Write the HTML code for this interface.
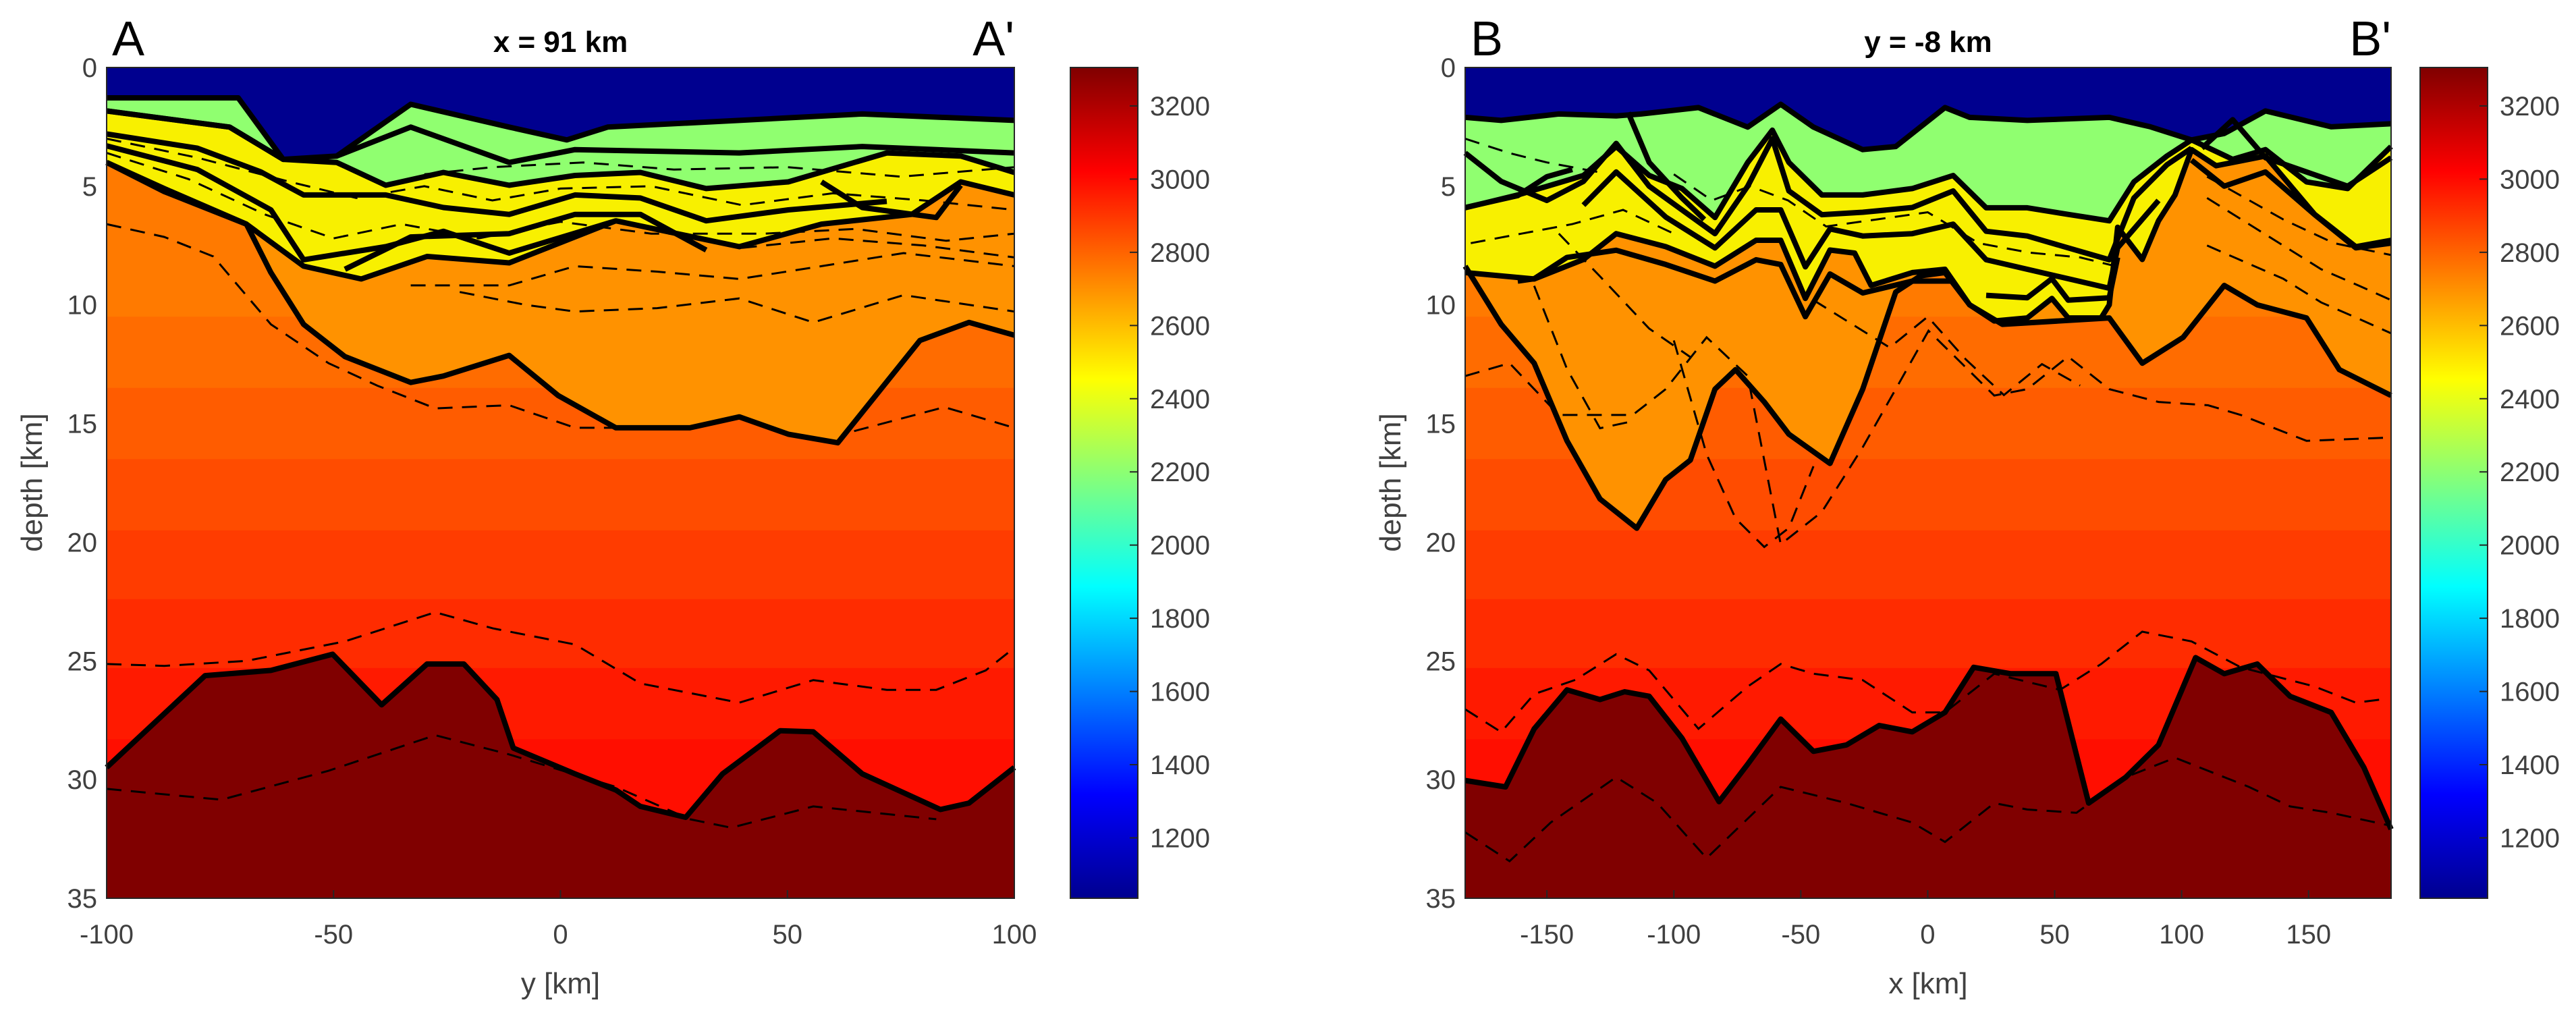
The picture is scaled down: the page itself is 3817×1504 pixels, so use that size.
<!DOCTYPE html>
<html><head><meta charset="utf-8"><style>
html,body{margin:0;padding:0;background:#fff;}
svg{display:block;font-family:"Liberation Sans",sans-serif;}
</style></head><body>
<svg id="fig" width="3817" height="1504" viewBox="0 0 3817 1504" xmlns="http://www.w3.org/2000/svg">
<defs>
<linearGradient id="jet" x1="0" y1="1" x2="0" y2="0">
<stop offset="0" stop-color="#00008F"/><stop offset="0.125" stop-color="#0000FF"/>
<stop offset="0.375" stop-color="#00FFFF"/><stop offset="0.625" stop-color="#FFFF00"/>
<stop offset="0.875" stop-color="#FF0000"/><stop offset="1" stop-color="#800000"/>
</linearGradient>
</defs>
</svg>
<script>
// ---------------- data (km, depth km) ----------------
const depthTicks=[0,5,10,15,20,25,30,35];
const leftXTicks=[-100,-50,0,50,100];
const rightXTicks=[-150,-100,-50,0,50,100,150];
const cbTicks=[1200,1400,1600,1800,2000,2200,2400,2600,2800,3000,3200];
const bandEdges=[0,10.5,13.5,16.5,19.5,22.4,25.3,28.3,35];
const bandColors=["#FF7A00","#FF6C00","#FF5C00","#FF4C00","#FF3C00","#FF2C00","#FF1A00","#FF0E00"];

const Lsea=[[-100,1.28],[-71,1.28],[-61.1,3.87],[-49.3,3.73],[-33,1.55],[-11.3,2.51],[1.4,3.05],[10.4,2.51],[39.4,2.23],[66.5,1.96],[100,2.23]];
const Lgreen=[[-100,1.83],[-72.9,2.51],[-61.1,3.87],[-49.3,4.0],[-38.5,4.96],[-25.8,4.42],[-11.3,4.96],[3.2,4.55],[17.6,4.42],[32.1,5.1],[50.2,4.82],[71.9,3.6],[88.2,3.73],[100,4.42]];
const Lyellow=[[-100,4.0],[-87.3,5.1],[-69.2,6.6],[-56.6,8.37],[-43.9,8.91],[-29.4,7.96],[-11.3,8.23],[12.2,6.46],[39.4,7.55],[57.5,6.6],[77.4,6.19],[88.2,4.82],[100,5.37]];
const Lcrust=[[-100,4.0],[-87.3,5.23],[-69.2,6.6],[-63.8,8.64],[-56.6,10.82],[-47.5,12.18],[-33,13.27],[-25.8,13.0],[-11.3,12.13],[-0.5,13.82],[12.2,15.18],[28.5,15.18],[39.4,14.72],[50.2,15.45],[61.1,15.81],[79.2,11.5],[90,10.74],[100,11.28]];
const Lmoho=[[-100,29.49],[-78.3,25.62],[-63.8,25.4],[-50.2,24.72],[-39.4,26.85],[-29.4,25.13],[-21.3,25.13],[-14,26.63],[-10.4,28.67],[3.2,29.76],[12.2,30.44],[17.6,31.13],[27.6,31.59],[35.7,29.76],[48.4,27.94],[55.7,27.99],[66.5,29.76],[83.7,31.26],[90,30.99],[100,29.49]];
const Lthick=[
 [[-100,1.83],[-72.9,2.51],[-61.1,3.87]],
 [[-49.3,3.73],[-33,2.51],[-11.3,4.0],[3.2,3.46],[39.4,3.6],[66.5,3.33],[100,3.6]],
 [[-100,2.8],[-80,3.4],[-66,4.4],[-56.6,5.37],[-38.5,5.37],[-25.8,5.9],[-11.3,6.19],[3.2,5.37],[17.6,5.5],[32.1,6.46],[50.2,6.0],[71.9,5.64]],
 [[-100,3.3],[-80,4.3],[-63.8,6.0],[-56.6,8.1],[-38.5,7.55],[-25.8,6.9],[-11.3,7.82],[12.2,6.46]],
 [[-47.5,8.5],[-33,7.14],[-11.3,7.0],[3.2,6.19],[17.6,6.19],[32.1,7.69]],
 [[57.5,4.82],[66.5,5.9],[82.8,6.32],[88.2,4.96]]
];
const Ldash=[
 [[-100,25.13],[-87.3,25.21],[-69.2,25.0],[-47.5,24.18],[-27.6,22.95],[-14.9,23.63],[3.2,24.31],[17.6,25.95],[39.4,26.76],[55.7,25.81],[71.9,26.22],[82.8,26.22],[93.7,25.4],[100,24.45]],
 [[-100,30.39],[-74.7,30.85],[-51.1,29.63],[-27.6,28.13],[-11.3,28.94],[12.2,30.31],[28.5,31.67],[37.6,32.03],[55.7,31.13],[82.8,31.67]],
 [[-100,6.6],[-87.3,7.14],[-76.5,7.96],[-63.8,10.82],[-51.1,12.46],[-40.3,13.41],[-27.6,14.36],[-11.3,14.23],[3.2,15.18],[14,15.18]],
 [[64.7,15.32],[84.6,14.31],[100,15.18]],
 [[-22.2,9.46],[-7.7,10.0],[3.2,10.28],[21.3,10.14],[39.4,9.73],[55.7,10.74],[75.6,9.59],[100,10.28]],
 [[-33,9.18],[-11.3,9.18],[3.2,8.37],[21.3,8.6],[39.4,8.91],[57.5,8.37],[75.6,7.82],[100,8.37]],
 [[-100,3.0],[-80,3.8],[-60,4.8],[-45,5.5],[-30,5.0],[-15,5.6],[0,5.1],[20,5.0],[40,5.8],[60,5.3],[80,5.6],[100,6.0]],
 [[-100,3.6],[-82,4.7],[-65,6.2],[-50,7.2],[-35,6.6],[-18,7.2],[0,6.5],[20,7.0],[45,7.0],[65,6.8],[85,7.3],[100,7.0]],
 [[-30,4.5],[-15,4.2],[5,4.0],[25,4.3],[50,4.2],[75,4.6],[100,4.2]],
 [[40,7.6],[60,7.2],[80,7.5],[100,8.0]]
];

const Rsea=[[-182.2,2.1],[-168,2.23],[-145.3,1.96],[-122.7,2.04],[-112.9,1.96],[-90.3,1.69],[-70.9,2.51],[-57.9,1.55],[-45,2.51],[-25.6,3.46],[-12.6,3.33],[6.8,1.69],[16.5,2.1],[39.2,2.23],[71.5,2.1],[87.7,2.5],[103.9,3.05],[116.8,2.78],[133,1.83],[158.9,2.5],[182.5,2.37]];
const Rgreen=[[-182.2,5.91],[-161.5,5.37],[-135.6,4.55],[-122.7,3.33],[-109.7,4.55],[-96.8,5.1],[-83.8,6.32],[-70.9,4.0],[-61.2,2.64],[-54.7,4.0],[-41.7,5.37],[-25.6,5.37],[-6.1,5.1],[10,4.55],[23,5.91],[39.2,5.91],[55.3,6.19],[71.5,6.46],[81.2,4.82],[94.2,3.73],[103.9,3.05],[120.1,3.87],[133,3.46],[149.2,4.82],[165.4,5.1],[182.5,3.33]];
const Ryellow=[[-182.2,8.64],[-155,8.91],[-135.6,8.09],[-122.7,7.0],[-103.2,7.55],[-83.8,8.37],[-67.6,7.28],[-57.9,7.28],[-48.2,9.73],[-38.5,7.69],[-28.8,7.82],[-22.3,9.18],[-6.1,8.64],[6.8,8.5],[16.5,10.0],[26.2,10.68],[39.2,10.55],[48.9,9.73],[55.3,10.55],[68.3,10.55],[71.5,10.0],[74.8,6.73],[84.5,8.09],[90.9,6.46],[97.4,5.37],[103.9,3.46],[113.6,4.14],[133,3.73],[152.4,6.19],[168.6,7.55],[182.5,7.28]];
const Rcrust=[[-182.2,8.37],[-168,10.82],[-155,12.46],[-142.1,15.73],[-129.1,18.18],[-114.6,19.41],[-103.2,17.36],[-93.5,16.54],[-83.8,13.55],[-75.7,12.73],[-64.4,14.09],[-54.7,15.45],[-38.5,16.68],[-25.6,13.55],[-12.6,9.46],[-2.9,8.78],[6.8,8.64],[16.5,10.0],[29.4,10.82],[71.5,10.55],[84.5,12.46],[100.6,11.37],[116.8,9.18],[129.8,10.0],[149.2,10.55],[162.1,12.73],[182.5,13.82]];
const Rmoho=[[-182.2,30.04],[-166.3,30.31],[-155,27.86],[-142.1,26.22],[-129.1,26.63],[-119.4,26.3],[-109.7,26.49],[-96.8,28.26],[-82.2,30.93],[-70.9,29.35],[-57.9,27.45],[-45,28.81],[-32,28.54],[-19.1,27.72],[-6.1,27.99],[6.8,27.17],[18.1,25.27],[32.7,25.54],[50.5,25.54],[63.4,30.99],[78,29.9],[90.9,28.54],[105.5,24.86],[116.8,25.54],[129.8,25.13],[142.7,26.49],[158.9,27.17],[171.8,29.49],[182.5,32.09]];
const Rthick=[
 [[-182.2,3.6],[-168,4.8],[-150,5.6],[-135.6,4.8],[-122.7,3.2],[-109.7,5.0],[-96.8,6.0],[-83.8,7.0],[-70.9,5.0],[-61.2,3.0],[-54.7,5.2],[-41.7,6.2],[-25.6,6.1],[-6.1,5.9],[10,5.2],[23,6.9],[39.2,7.1],[55.3,7.6],[71.5,8.1],[81.2,5.5],[94.2,4.1],[103.9,3.4]],
 [[-135.6,5.8],[-122.7,4.4],[-103.2,6.3],[-83.8,7.6],[-67.6,6.0],[-57.9,6.0],[-48.2,8.4],[-38.5,6.8],[-25.6,7.1],[-6.1,7.0],[10,6.6],[23,8.1],[39.2,8.5],[55.3,8.9],[71.5,9.3],[74.8,7.6],[90.9,5.6]],
 [[-161.5,9.0],[-155,8.9],[-142.1,8.0],[-122.7,7.7],[-103.2,8.3],[-83.8,9.0],[-67.6,8.1],[-57.9,8.3],[-48.2,10.5],[-38.5,8.7],[-25.6,9.5],[-6.1,9.0],[10,9.0]],
 [[23,9.6],[39.2,9.7],[48.9,8.9],[55.3,9.8],[71.5,9.7],[74.8,8.0]],
 [[-118,1.9],[-109.7,4.0],[-96.8,5.5],[-88,6.4]],
 [[108,3.4],[120.1,2.2],[133,3.8],[149.2,4.4],[165.4,5.0],[182.5,3.8]],
 [[103.9,3.9],[116.8,5.0],[133,4.4],[152.4,6.2],[168.6,7.6],[182.5,7.4]],
 [[-182.2,5.9],[-161.5,5.4],[-150,4.6],[-140,4.3]]
];
const Rdash=[
 [[-182.2,27.04],[-168,28.0],[-155,26.4],[-138.8,25.8],[-122.7,24.72],[-109.7,25.4],[-90.3,27.86],[-70.9,26.08],[-57.9,25.13],[-45,25.54],[-25.6,25.81],[-6.1,27.17],[6.8,27.17],[26.2,25.54],[52.1,26.22],[68.3,25.13],[84.5,23.77],[103.9,24.18],[123.3,25.27],[152.4,26.08],[168.6,26.76],[178.3,26.63]],
 [[-182.2,32.22],[-164.7,33.44],[-148.5,31.81],[-122.7,29.9],[-106.5,30.99],[-87.1,33.31],[-57.9,30.31],[-32,30.99],[-6.1,31.81],[6.8,32.63],[26.2,30.99],[39.2,31.26],[58.6,31.4],[78,29.9],[97.4,29.08],[126.5,30.31],[142.7,31.13],[158.9,31.4],[182.5,31.95]],
 [[-182.2,13.0],[-164.7,12.46],[-145.3,14.64],[-116.2,14.64],[-103.2,13.55],[-87.1,11.37],[-70.9,13.0],[-57.9,20.09],[-41.7,18.72],[-25.6,16.0],[-12.6,13.55],[0.3,11.09],[13.3,12.46],[26.2,13.82],[39.2,13.55],[55.3,12.18],[71.5,13.55],[90.9,14.09],[110.4,14.23],[123.3,14.64],[149.2,15.73],[182.5,15.59]],
 [[-155,9.2],[-142.1,12.7],[-129.1,15.2],[-116.2,14.9]],
 [[-100,11.5],[-87.1,16.3],[-75.7,19.0],[-64.4,20.2],[-54.7,19.4],[-45,16.8]],
 [[-145.3,7.0],[-129.1,8.8],[-109.7,11.0],[-93.5,12.2]],
 [[-45,9.8],[-30,10.8],[-15,11.8],[0,10.5],[15,12.3],[30,13.8],[45,12.5],[60,13.4]],
 [[110,5.5],[125,6.5],[140,7.5],[155,8.5],[170,9.2],[182.5,9.8]],
 [[110,4.6],[125,5.5],[140,6.4],[160,7.4],[182.5,7.9]],
 [[-182.2,3.0],[-165,3.6],[-150,4.0],[-130,4.4]],
 [[-100,4.5],[-85,5.6],[-70,5.0],[-55,5.6],[-40,6.7],[-20,6.4],[0,6.1],[20,7.4],[40,7.8],[60,8.0],[75,8.4]],
 [[-180,7.4],[-160,7.0],[-140,6.6],[-120,6.0],[-100,7.0]],
 [[110,7.5],[125,8.2],[140,8.9],[155,9.9],[170,10.6],[182.5,11.2]]
];

// ---------------- drawing ----------------
const NS="http://www.w3.org/2000/svg";
const svg=document.getElementById('fig');
function mk(tag,attrs,parent){const e=document.createElementNS(NS,tag);for(const k in attrs)e.setAttribute(k,attrs[k]);(parent||svg).appendChild(e);return e;}
const Y0=100,Y1=1331,DMAX=35;
function yS(d){return Y0+(d/DMAX)*(Y1-Y0);}

function panel(p){
  const g=mk('g',{});
  
  
  const xS=v=>p.x0+(v-p.xmin)/(p.xmax-p.xmin)*(p.x1-p.x0);
  // bands
  for(let i=0;i<bandColors.length;i++){
    const r=mk('rect',{x:p.x0,y:yS(bandEdges[i]),width:p.x1-p.x0,height:yS(bandEdges[i+1])-yS(bandEdges[i])+0.5,fill:bandColors[i]},g);
    
    
  }
  const line=pts=>pts.map(q=>xS(q[0]).toFixed(1)+','+yS(q[1]).toFixed(1)).join(' ');
  const fillTop=(pts,col,nm)=>{const e=mk('polygon',{points:xS(pts[0][0])+','+Y0+' '+line(pts)+' '+xS(pts[pts.length-1][0])+','+Y0,fill:col},g);
    };
  fillTop(p.crust,'#FF9200','upper-crust-layer');
  fillTop(p.yellow,'#F8F000','sediment-yellow-layer');
  fillTop(p.green,'#90FF70','sediment-green-layer');
  fillTop(p.sea,'#00008F','water-layer');
  const m=mk('polygon',{points:line(p.moho)+' '+xS(p.moho[p.moho.length-1][0])+','+Y1+' '+xS(p.moho[0][0])+','+Y1,fill:'#800000'},g);
  
  
  for(const d of p.dash){const e=mk('polyline',{points:line(d),fill:'none',stroke:'#000','stroke-width':3,'stroke-dasharray':'22,14'},g);
    }
  for(const d of p.thick.concat([p.green,p.yellow,p.crust,p.moho,p.sea])){const e=mk('polyline',{points:line(d),fill:'none',stroke:'#000','stroke-width':8,'stroke-linejoin':'round'},g);
    }
  const fr=mk('rect',{x:p.x0,y:Y0,width:p.x1-p.x0,height:Y1-Y0,fill:'none',stroke:'#262626','stroke-width':2},g);
  
  
  // y ticks
  for(const t of depthTicks){
    const tx=mk('text',{x:p.x0-14,y:yS(t)+14,'text-anchor':'end','font-size':40,fill:'#404040'},g);
    tx.textContent=t;
    
    
  }
  for(const t of p.xticks){
    const tx=mk('text',{x:xS(t),y:1398,'text-anchor':'middle','font-size':40,fill:'#404040'},g);
    tx.textContent=t;
    
    
    mk('line',{x1:xS(t),x2:xS(t),y1:Y1,y2:Y1-12,stroke:'#262626','stroke-width':2},g);
  }
  const xl=mk('text',{x:(p.x0+p.x1)/2,y:1472,'text-anchor':'middle','font-size':44,fill:'#404040'},g);
  xl.textContent=p.xlabel;
  
  
  const yl=mk('text',{x:0,y:0,'text-anchor':'middle','font-size':44,fill:'#404040',transform:'translate('+(p.x0-96)+',715) rotate(-90)'},g);
  yl.textContent='depth [km]';
  
  
  const ti=mk('text',{x:(p.x0+p.x1)/2,y:77,'text-anchor':'middle','font-size':44,'font-weight':'bold',fill:'#000'},g);
  ti.textContent=p.title;
  
  
  const a=mk('text',{x:p.x0+8,y:82,'font-size':72,fill:'#000'},g);
  a.textContent=p.start;
  
  
  const b=mk('text',{x:p.x1,y:82,'text-anchor':'end','font-size':72,fill:'#000'},g);
  b.textContent=p.end;
  
  
  // colorbar
  const cb=mk('rect',{x:p.cb0,y:Y0,width:100,height:Y1-Y0,fill:'url(#jet)',stroke:'#262626','stroke-width':2},g);
  
  
  for(const v of cbTicks){
    const y=Y0+(3305-v)/(3305-1035)*(Y1-Y0);
    mk('line',{x1:p.cb0+100,x2:p.cb0+88,y1:y,y2:y,stroke:'#262626','stroke-width':2},g);
    const tx=mk('text',{x:p.cb0+118,y:y+14,'font-size':40,fill:'#404040'},g);
    tx.textContent=v;
    
    
  }
}
panel({name:'panel-a',x0:158,x1:1503,xmin:-100,xmax:100,cb0:1586,xticks:leftXTicks,xlabel:'y [km]',title:'x = 91 km',start:'A',end:"A'",
  sea:Lsea,green:Lgreen,yellow:Lyellow,crust:Lcrust,moho:Lmoho,thick:Lthick,dash:Ldash});
panel({name:'panel-b',x0:2171,x1:3543,xmin:-182.2,xmax:182.5,cb0:3586,xticks:rightXTicks,xlabel:'x [km]',title:'y = -8 km',start:'B',end:"B'",
  sea:Rsea,green:Rgreen,yellow:Ryellow,crust:Rcrust,moho:Rmoho,thick:Rthick,dash:Rdash});
</script>
</body></html>
